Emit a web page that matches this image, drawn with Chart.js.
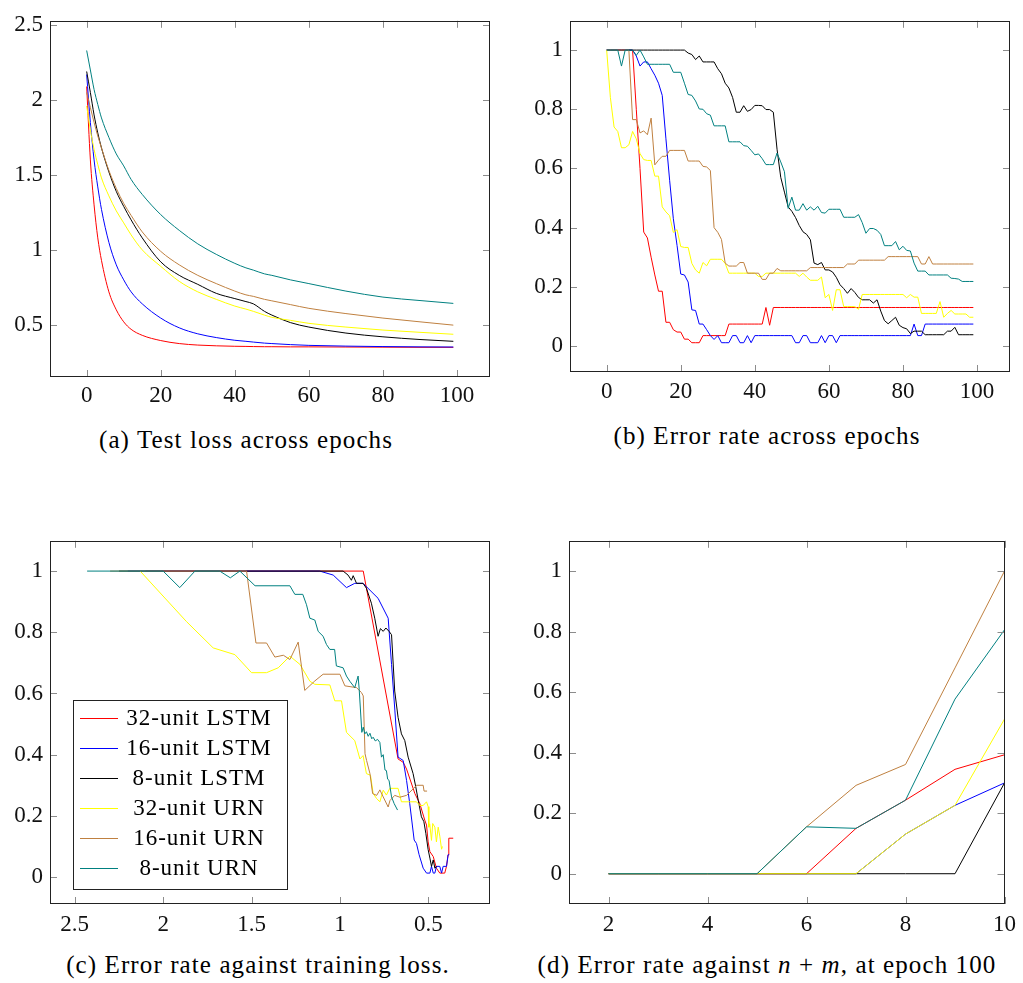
<!DOCTYPE html>
<html lang="en">
<head>
<meta charset="UTF-8">
<title>LSTM vs URN</title>
<script src="https://cdn.jsdelivr.net/npm/chart.js"></script>
<style>
  body { margin: 0; background: #fff; }
  #fig { position: relative; width: 1023px; height: 983px; font-family: 'Liberation Serif', 'DejaVu Serif', serif; color: #000; overflow: hidden; }
  canvas { position: absolute; }
  .cap { position: absolute; font-size: 25px; letter-spacing: 1.1px; white-space: nowrap; transform: translate(-50%, -50%); }
</style>
</head>
<body>
<div id="fig">
  <canvas id="lossChart" width="500" height="420" style="left:0;top:0"></canvas>
  <canvas id="errChart" width="503" height="420" style="left:520px;top:0"></canvas>
  <canvas id="trainChart" width="500" height="420" style="left:0;top:520px"></canvas>
  <canvas id="nmChart" width="503" height="420" style="left:520px;top:520px"></canvas>
  <div class="cap" style="left:246px;top:440px">(a) Test loss across epochs</div>
  <div class="cap" style="left:767px;top:436px">(b) Error rate across epochs</div>
  <div class="cap" style="left:258px;top:965px">(c) Error rate against training loss.</div>
  <div class="cap" style="left:767px;top:965px">(d) Error rate against <i>n</i> + <i>m</i>, at epoch 100</div>
</div>
<script>
const seriesNames = ['32-unit LSTM', '16-unit LSTM', '8-unit LSTM', '32-unit URN', '16-unit URN', '8-unit URN'];
const seriesColors = ['#ff0000', '#0000ff', '#000000', '#ffff00', '#bf8040', '#008080'];

// (a) test loss, read at these epochs
const lossEpochs = [0, 1, 2, 3, 4, 6, 8, 10, 12, 15, 20, 25, 30, 35, 40, 43, 45, 48, 50, 55, 60, 70, 80, 90, 99];
const lossRed    = [2.09, 1.6, 1.3, 1.08, 0.93, 0.72, 0.6, 0.52, 0.47, 0.43, 0.395, 0.375, 0.365, 0.36, 0.357, 0.356, 0.355, 0.354, 0.354, 0.353, 0.353, 0.352, 0.351, 0.35, 0.35];
const lossBlue   = [2.17, 1.85, 1.6, 1.42, 1.27, 1.05, 0.9, 0.8, 0.72, 0.64, 0.545, 0.48, 0.44, 0.415, 0.397, 0.39, 0.385, 0.378, 0.375, 0.368, 0.363, 0.358, 0.355, 0.353, 0.352];
const lossBlack  = [2.19, 2.05, 1.9, 1.78, 1.68, 1.52, 1.39, 1.29, 1.2, 1.08, 0.92, 0.83, 0.77, 0.71, 0.675, 0.655, 0.64, 0.59, 0.565, 0.515, 0.485, 0.445, 0.42, 0.402, 0.39];
const lossYellow = [1.96, 1.8, 1.67, 1.57, 1.48, 1.36, 1.26, 1.18, 1.1, 1.0, 0.89, 0.79, 0.72, 0.67, 0.625, 0.605, 0.59, 0.565, 0.55, 0.53, 0.51, 0.485, 0.465, 0.45, 0.437];
const lossBrown  = [2.05, 1.95, 1.85, 1.76, 1.68, 1.53, 1.41, 1.31, 1.23, 1.12, 0.99, 0.9, 0.83, 0.775, 0.725, 0.7, 0.69, 0.67, 0.66, 0.635, 0.61, 0.575, 0.545, 0.52, 0.498];
const lossTeal   = [2.33, 2.2, 2.07, 1.97, 1.88, 1.75, 1.64, 1.56, 1.47, 1.37, 1.235, 1.13, 1.04, 0.97, 0.91, 0.88, 0.865, 0.84, 0.83, 0.8, 0.775, 0.725, 0.685, 0.662, 0.643];

// (b) error rate, one value per epoch 0..99
const errRed = [1, 1, 1, 1, 1, 1, 1, 1, 0.8, 0.6, 0.385, 0.365, 0.3, 0.24, 0.185, 0.185, 0.08, 0.08, 0.055, 0.047,
  0.047, 0.023, 0.023, 0.011, 0.011, 0.011, 0.035, 0.035, 0.035, 0.035, 0.035, 0.035, 0.035, 0.074, 0.074, 0.074, 0.074, 0.074, 0.074, 0.074,
  0.074, 0.074, 0.074, 0.13, 0.07, 0.13, 0.13, 0.13, 0.13, 0.13, 0.13, 0.13, 0.13, 0.13, 0.13, 0.13, 0.13, 0.13, 0.13, 0.13,
  0.13, 0.13, 0.13, 0.13, 0.13, 0.13, 0.13, 0.13, 0.13, 0.13, 0.13, 0.13, 0.13, 0.13, 0.13, 0.13, 0.13, 0.13, 0.13, 0.13,
  0.13, 0.13, 0.13, 0.13, 0.13, 0.13, 0.13, 0.13, 0.13, 0.13, 0.13, 0.13, 0.13, 0.13, 0.13, 0.13, 0.13, 0.13, 0.13, 0.13];
const errBlue = [1, 1, 1, 1, 1, 1, 1, 1, 0.98, 0.946, 0.96, 0.96, 0.937, 0.915, 0.888, 0.847, 0.7, 0.56, 0.43, 0.34,
  0.243, 0.24, 0.216, 0.122, 0.12, 0.074, 0.074, 0.055, 0.035, 0.022, 0.035, 0.011, 0.011, 0.011, 0.035, 0.035, 0.011, 0.011, 0.035, 0.011,
  0.035, 0.035, 0.035, 0.035, 0.035, 0.035, 0.035, 0.035, 0.035, 0.035, 0.035, 0.011, 0.011, 0.035, 0.035, 0.011, 0.011, 0.011, 0.035, 0.011,
  0.035, 0.035, 0.011, 0.035, 0.035, 0.035, 0.035, 0.035, 0.035, 0.035, 0.035, 0.035, 0.035, 0.035, 0.035, 0.035, 0.035, 0.035, 0.035, 0.035,
  0.035, 0.035, 0.035, 0.074, 0.035, 0.035, 0.074, 0.074, 0.074, 0.074, 0.074, 0.074, 0.074, 0.074, 0.074, 0.074, 0.074, 0.074, 0.074, 0.074];
const errBlack = [1, 1, 1, 1, 1, 1, 1, 1, 1, 1, 1, 1, 1, 1, 1, 1, 1, 1, 1, 1,
  1, 1, 0.99, 0.985, 0.968, 0.98, 0.96, 0.96, 0.96, 0.96, 0.937, 0.92, 0.888, 0.872, 0.84, 0.79, 0.79, 0.812, 0.793, 0.799,
  0.813, 0.813, 0.812, 0.799, 0.799, 0.79, 0.665, 0.57, 0.52, 0.47, 0.455, 0.434, 0.407, 0.386, 0.377, 0.359, 0.28, 0.275, 0.282, 0.257,
  0.257, 0.25, 0.232, 0.207, 0.194, 0.178, 0.194, 0.181, 0.164, 0.156, 0.156, 0.156, 0.145, 0.156, 0.118, 0.086, 0.075, 0.086, 0.097, 0.07,
  0.062, 0.058, 0.042, 0.05, 0.05, 0.05, 0.038, 0.038, 0.038, 0.038, 0.038, 0.038, 0.05, 0.05, 0.063, 0.038, 0.038, 0.038, 0.038, 0.038];
const errYellow = [1, 0.84, 0.74, 0.725, 0.67, 0.67, 0.68, 0.725, 0.7, 0.65, 0.63, 0.627, 0.627, 0.574, 0.574, 0.47, 0.453, 0.44, 0.384, 0.393,
  0.336, 0.333, 0.333, 0.279, 0.257, 0.246, 0.282, 0.271, 0.293, 0.293, 0.293, 0.293, 0.279, 0.246, 0.246, 0.246, 0.246, 0.246, 0.246, 0.246,
  0.246, 0.235, 0.235, 0.246, 0.246, 0.246, 0.246, 0.246, 0.246, 0.246, 0.246, 0.246, 0.235, 0.246, 0.233, 0.222, 0.222, 0.222, 0.233, 0.163,
  0.174, 0.12, 0.19, 0.19, 0.133, 0.133, 0.133, 0.133, 0.124, 0.174, 0.174, 0.174, 0.174, 0.174, 0.174, 0.174, 0.174, 0.174, 0.174, 0.174,
  0.174, 0.163, 0.174, 0.165, 0.165, 0.11, 0.11, 0.11, 0.11, 0.11, 0.15, 0.097, 0.11, 0.12, 0.108, 0.108, 0.108, 0.108, 0.097, 0.097];
const errBrown = [1, 1, 1, 1, 1, 1, 1, 0.765, 0.765, 0.72, 0.727, 0.714, 0.77, 0.612, 0.628, 0.641, 0.641, 0.661, 0.661, 0.661,
  0.661, 0.661, 0.625, 0.625, 0.625, 0.625, 0.607, 0.605, 0.593, 0.4, 0.384, 0.36, 0.28, 0.27, 0.27, 0.27, 0.282, 0.282, 0.246, 0.246,
  0.246, 0.246, 0.225, 0.225, 0.246, 0.246, 0.262, 0.254, 0.254, 0.254, 0.254, 0.254, 0.254, 0.254, 0.254, 0.265, 0.265, 0.265, 0.265, 0.265,
  0.265, 0.265, 0.265, 0.265, 0.265, 0.277, 0.277, 0.277, 0.29, 0.29, 0.29, 0.29, 0.29, 0.29, 0.29, 0.29, 0.302, 0.302, 0.302, 0.302,
  0.302, 0.302, 0.302, 0.302, 0.302, 0.277, 0.277, 0.302, 0.277, 0.277, 0.277, 0.277, 0.277, 0.277, 0.277, 0.277, 0.277, 0.277, 0.277, 0.277];
const errTeal = [1, 1, 1, 1, 0.946, 1, 1, 1, 0.982, 1, 0.977, 0.952, 0.952, 0.952, 0.952, 0.952, 0.952, 0.952, 0.925, 0.925,
  0.925, 0.888, 0.85, 0.847, 0.828, 0.801, 0.8, 0.785, 0.78, 0.744, 0.744, 0.744, 0.744, 0.69, 0.69, 0.69, 0.69, 0.677, 0.675, 0.661,
  0.646, 0.649, 0.633, 0.613, 0.613, 0.613, 0.652, 0.622, 0.589, 0.465, 0.503, 0.459, 0.459, 0.481, 0.459, 0.47, 0.459, 0.472, 0.451, 0.449,
  0.462, 0.462, 0.462, 0.462, 0.435, 0.435, 0.435, 0.435, 0.444, 0.417, 0.381, 0.397, 0.397, 0.391, 0.377, 0.339, 0.339, 0.339, 0.353, 0.325,
  0.337, 0.323, 0.321, 0.28, 0.253, 0.253, 0.253, 0.24, 0.24, 0.24, 0.24, 0.24, 0.24, 0.229, 0.228, 0.226, 0.218, 0.218, 0.218, 0.218];

// (c) [training loss, error rate] pairs
const trainRed = [[2.1, 1], [0.868, 1], [0.671, 0.386], [0.642, 0.375], [0.623, 0.353], [0.576, 0.273], [0.548, 0.24], [0.52, 0.186],
  [0.51, 0.17], [0.501, 0.115], [0.491, 0.083], [0.472, 0.067], [0.454, 0.029], [0.435, 0.013], [0.407, 0.013], [0.397, 0.035],
  [0.388, 0.073], [0.384, 0.127], [0.359, 0.127]];
const trainBlue = [[2.2, 1], [1.114, 1], [1.038, 0.987], [0.963, 0.946], [0.916, 0.96], [0.869, 0.96], [0.85, 0.949], [0.784, 0.911],
  [0.727, 0.846], [0.708, 0.695], [0.689, 0.543], [0.671, 0.392], [0.642, 0.381], [0.623, 0.316], [0.605, 0.24], [0.58, 0.121],
  [0.567, 0.11], [0.552, 0.073], [0.529, 0.029], [0.51, 0.013], [0.491, 0.013], [0.482, 0.035], [0.472, 0.013], [0.463, 0.013],
  [0.454, 0.035], [0.435, 0.035], [0.425, 0.013], [0.416, 0.035], [0.397, 0.035], [0.388, 0.073], [0.382, 0.073]];
const trainBlack = [[2.25, 1], [0.982, 1], [0.954, 0.987], [0.935, 0.97], [0.925, 0.985], [0.906, 0.96], [0.869, 0.96], [0.85, 0.944],
  [0.822, 0.895], [0.803, 0.846], [0.784, 0.787], [0.771, 0.812], [0.755, 0.803], [0.74, 0.814], [0.722, 0.803], [0.708, 0.792],
  [0.69, 0.608], [0.671, 0.522], [0.652, 0.468], [0.633, 0.446], [0.614, 0.392], [0.586, 0.338], [0.571, 0.295], [0.557, 0.251],
  [0.539, 0.197], [0.525, 0.181], [0.514, 0.143], [0.501, 0.09], [0.491, 0.062], [0.482, 0.035], [0.472, 0.056], [0.463, 0.029], [0.454, 0.035]];
const trainYellow = [[2.13, 1], [1.868, 0.835], [1.717, 0.749], [1.594, 0.727], [1.5, 0.668], [1.415, 0.668], [1.349, 0.684], [1.283, 0.722],
  [1.226, 0.695], [1.17, 0.64], [1.142, 0.63], [1.057, 0.628], [1.029, 0.576], [0.991, 0.576], [0.963, 0.473], [0.916, 0.446],
  [0.887, 0.386], [0.869, 0.397], [0.85, 0.338], [0.827, 0.333], [0.812, 0.273], [0.793, 0.257], [0.774, 0.246], [0.755, 0.284],
  [0.737, 0.268], [0.718, 0.29], [0.671, 0.29], [0.652, 0.246], [0.567, 0.246], [0.548, 0.234], [0.529, 0.234], [0.51, 0.246],
  [0.501, 0.23], [0.497, 0.163], [0.492, 0.174], [0.482, 0.12], [0.475, 0.175], [0.463, 0.163], [0.454, 0.115], [0.444, 0.163],
  [0.435, 0.134], [0.425, 0.091], [0.42, 0.1]];
const trainBrown = [[2.3, 1], [1.528, 1], [1.475, 0.765], [1.415, 0.765], [1.368, 0.719], [1.32, 0.725], [1.283, 0.711], [1.236, 0.768],
  [1.199, 0.61], [1.142, 0.641], [1.095, 0.663], [1.0, 0.663], [0.972, 0.625], [0.906, 0.619], [0.878, 0.603], [0.868, 0.592],
  [0.858, 0.403], [0.849, 0.381], [0.83, 0.338], [0.815, 0.273], [0.792, 0.267], [0.774, 0.285], [0.755, 0.262], [0.727, 0.229],
  [0.717, 0.25], [0.69, 0.267], [0.661, 0.261], [0.623, 0.267], [0.586, 0.288], [0.567, 0.3], [0.529, 0.3], [0.524, 0.281], [0.507, 0.281]];
const trainTeal = [[2.43, 1], [2.0, 1], [1.906, 0.946], [1.82, 1], [1.68, 1], [1.62, 0.978], [1.566, 1], [1.48, 0.952],
  [1.283, 0.952], [1.255, 0.924], [1.21, 0.924], [1.189, 0.89], [1.17, 0.846], [1.142, 0.84], [1.123, 0.803], [1.095, 0.787],
  [1.076, 0.76], [1.057, 0.744], [1.03, 0.744], [1.02, 0.69], [0.982, 0.684], [0.963, 0.657], [0.944, 0.64], [0.916, 0.619],
  [0.897, 0.657], [0.891, 0.614], [0.876, 0.473], [0.868, 0.49], [0.859, 0.468], [0.85, 0.475], [0.84, 0.46], [0.83, 0.47],
  [0.82, 0.452], [0.812, 0.457], [0.8, 0.445], [0.787, 0.45], [0.774, 0.44], [0.765, 0.392], [0.755, 0.4], [0.745, 0.35],
  [0.737, 0.348], [0.73, 0.32], [0.722, 0.316], [0.708, 0.262], [0.693, 0.24], [0.674, 0.219]];

// (d) error at epoch 100 against n+m
const nmValues = [2, 3, 4, 5, 6, 7, 8, 9, 10];
const nmRed    = [0, 0, 0, 0, 0, 0.15, 0.243, 0.345, 0.393];
const nmBlue   = [0, 0, 0, 0, 0, 0, 0.131, 0.226, 0.3];
const nmBlack  = [0, 0, 0, 0, 0, 0, 0, 0, 0.3];
const nmYellow = [0, 0, 0, 0, 0, 0, 0.131, 0.226, 0.511];
const nmBrown  = [0, 0, 0, 0, 0.155, 0.292, 0.361, 0.68, 1.0];
const nmTeal   = [0, 0, 0, 0, 0.155, 0.15, 0.243, 0.577, 0.806];

const epochTicks = [0, 20, 40, 60, 80, 100];
const lossTicks = [0.5, 1, 1.5, 2, 2.5];
const errTicks = [0, 0.2, 0.4, 0.6, 0.8, 1];
const trainTicks = [2.5, 2, 1.5, 1, 0.5];
const nmTicks = [2, 4, 6, 8, 10];

const FONT = "'Liberation Serif', 'DejaVu Serif', serif";

// box round the plot, with short ticks on the inside of every side
const frameTicks = {
  id: 'frameTicks',
  afterDraw(chart) {
    const { ctx, chartArea: a, scales: { x, y } } = chart;
    ctx.save();
    ctx.lineWidth = 1;
    ctx.strokeStyle = '#8c8c8c';
    ctx.beginPath();
    x.ticks.forEach(t => {
      const p = Math.round(x.getPixelForValue(t.value)) + 0.5;
      ctx.moveTo(p, a.top); ctx.lineTo(p, a.top + 7);
      ctx.moveTo(p, a.bottom); ctx.lineTo(p, a.bottom - 7);
    });
    y.ticks.forEach(t => {
      const p = Math.round(y.getPixelForValue(t.value)) + 0.5;
      ctx.moveTo(a.left, p); ctx.lineTo(a.left + 7, p);
      ctx.moveTo(a.right, p); ctx.lineTo(a.right - 7, p);
    });
    ctx.stroke();
    ctx.strokeStyle = '#222';
    ctx.strokeRect(Math.round(a.left) + 0.5, Math.round(a.top) + 0.5,
      Math.round(a.right - a.left) - 1, Math.round(a.bottom - a.top) - 1);
    ctx.restore();
  }
};

// legend in a white box inside plot (c)
const boxLegend = {
  id: 'boxLegend',
  afterDraw(chart, args, o) {
    if (!o.show) return;
    const { ctx, chartArea: a } = chart;
    const x0 = Math.round(a.left + o.dx), y0 = Math.round(a.top + o.dy);
    ctx.save();
    ctx.fillStyle = '#fff';
    ctx.fillRect(x0, y0, o.w, o.h);
    ctx.lineWidth = 1;
    ctx.strokeStyle = '#222';
    ctx.strokeRect(x0 + 0.5, y0 + 0.5, o.w, o.h);
    ctx.font = '23px ' + FONT;
    ctx.letterSpacing = '1px';
    ctx.textAlign = 'center';
    ctx.textBaseline = 'middle';
    seriesNames.forEach((name, i) => {
      const yy = y0 + o.first + i * o.row;
      ctx.beginPath();
      ctx.strokeStyle = seriesColors[i];
      ctx.moveTo(x0 + 7, yy + 0.5);
      ctx.lineTo(x0 + 45, yy + 0.5);
      ctx.stroke();
      ctx.fillStyle = '#000';
      ctx.fillText(name, x0 + o.textX, yy + 1);
    });
    ctx.restore();
  }
};

// later series sit on top, as in the original plot
function lineSet(i, points, smooth) {
  return {
    label: seriesNames[i],
    data: points,
    order: seriesNames.length - i,
    borderColor: seriesColors[i],
    backgroundColor: seriesColors[i],
    borderWidth: 1,
    pointRadius: 0,
    fill: false,
    tension: 0,
    cubicInterpolationMode: smooth ? 'monotone' : 'default'
  };
}

function scale(min, max, tickValues, pad, fit, reverse) {
  return {
    type: 'linear',
    min: min,
    max: max,
    reverse: !!reverse,
    grid: { display: false, drawTicks: false },
    border: { display: false },
    afterBuildTicks: s => { s.ticks = tickValues.map(v => ({ value: v })); },
    afterFit: fit,
    ticks: {
      color: '#111',
      font: { family: FONT, size: 23 },
      padding: pad,
      maxRotation: 0,
      autoSkip: false,
      callback: v => String(v)
    }
  };
}

function makeChart(id, sets, xs, ys, padding, legendOpts) {
  return new Chart(document.getElementById(id), {
    type: 'line',
    data: { datasets: sets },
    options: {
      responsive: false,
      animation: false,
      layout: { padding: padding },
      scales: { x: xs, y: ys },
      plugins: {
        legend: { display: false },
        tooltip: { enabled: false },
        boxLegend: legendOpts || { show: false }
      }
    },
    plugins: [frameTicks, boxLegend]
  });
}

const byEpoch = (epochs, vals) => vals.map((v, k) => ({ x: epochs[k], y: v }));
const perEpoch = vals => vals.map((v, e) => ({ x: e, y: v }));
const pairs = list => list.map(p => ({ x: p[0], y: p[1] }));

// (a)
makeChart('lossChart',
  [lossRed, lossBlue, lossBlack, lossYellow, lossBrown, lossTeal].map((s, i) => lineSet(i, byEpoch(lossEpochs, s), true)),
  scale(-9.9, 108.9, epochTicks, 5, s => { s.height = 43; }),
  scale(0.152, 2.528, lossTicks, 7, s => { s.width = 50; }),
  { top: 11, right: 10, bottom: 0, left: 0 });

// (b)
makeChart('errChart',
  [errRed, errBlue, errBlack, errYellow, errBrown, errTeal].map((s, i) => lineSet(i, perEpoch(s), false)),
  scale(-9.9, 108.9, epochTicks, 6, s => { s.height = 48; }),
  scale(-0.088, 1.099, errTicks, 7, s => { s.width = 50; }),
  { top: 5, right: 13, bottom: 0, left: 0 });

// (c)
makeChart('trainChart',
  [trainRed, trainBlue, trainBlack, trainYellow, trainBrown, trainTeal].map((s, i) => lineSet(i, pairs(s), false)),
  scale(0.151, 2.64, trainTicks, 7, s => { s.height = 36; }, true),
  scale(-0.088, 1.099, errTicks, 7, s => { s.width = 50; }),
  { top: 18, right: 10, bottom: 0, left: 0 },
  { show: true, dx: 23, dy: 159, w: 214, h: 189, first: 18, row: 30, textX: 126 });

// (d)
makeChart('nmChart',
  [nmRed, nmBlue, nmBlack, nmYellow, nmBrown, nmTeal].map((s, i) => lineSet(i, byEpoch(nmValues, s), false)),
  scale(1.2, 10, nmTicks, 7, s => { s.height = 36; }),
  scale(-0.1, 1.1, errTicks, 7, s => { s.width = 49; }),
  { top: 19, right: 14, bottom: 0, left: 0 });
</script>
</body>
</html>
